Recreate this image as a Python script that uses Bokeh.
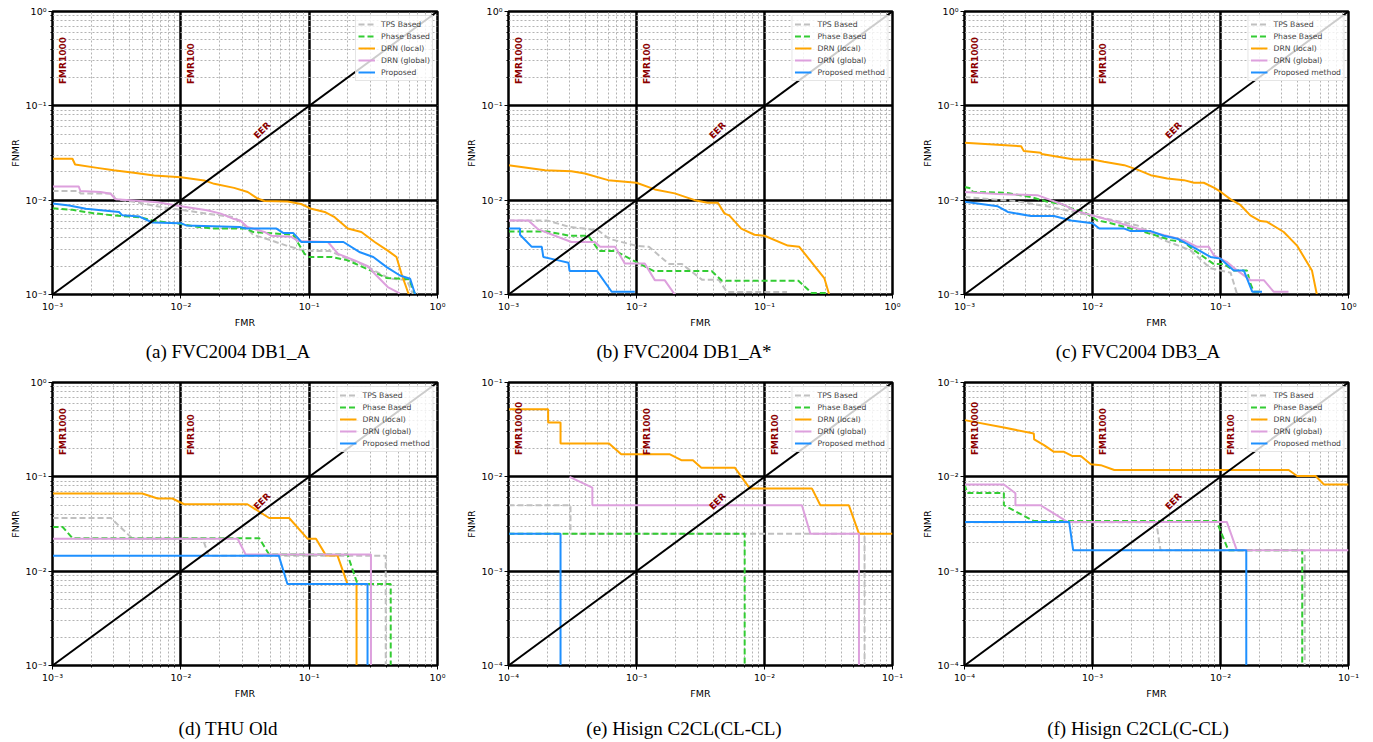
import math
from bokeh.plotting import figure
from bokeh.models import Range1d, LogTicker, CustomJSTickFormatter, Label, Div
from bokeh.layouts import column, row
from bokeh.embed import file_html
from bokeh.resources import INLINE

# ---------------- data ----------------
series_labels = ["TPS Based", "Phase Based", "DRN (local)", "DRN (global)", "Proposed method"]
series_colors = ["#c0c0c0", "#33cc33", "#ffa500", "#dda0dd", "#1e90ff"]
series_dashes = ["6 3", "6 3", "solid", "solid", "solid"]

captions = ["(a) FVC2004 DB1_A", "(b) FVC2004 DB1_A*", "(c) FVC2004 DB3_A",
            "(d) THU Old", "(e) Hisign C2CL(CL-CL)", "(f) Hisign C2CL(C-CL)"]

# axis limits per panel (a..f)
axis_lo = [1e-3, 1e-3, 1e-3, 1e-3, 1e-4, 1e-4]
axis_hi = [1.0, 1.0, 1.0, 1.0, 1e-1, 1e-1]
fmr_lines_wide = [1e-3, 1e-2]
fmr_names_wide = ["FMR1000", "FMR100"]
fmr_lines_low = [1e-4, 1e-3, 1e-2]
fmr_names_low = ["FMR10000", "FMR1000", "FMR100"]

# (a) FVC2004 DB1_A
a_tps_x = [1e-3, 1.6e-3, 1.65e-3, 2.9e-3, 3.1e-3, 4.5e-3, 7.2e-3, 0.01, 0.0149, 0.02, 0.026, 0.0305, 0.0365, 0.049, 0.0665, 0.0845, 0.1, 0.144, 0.185, 0.28, 0.356, 0.43, 0.575, 0.646]
a_tps_y = [0.0125, 0.0125, 0.0118, 0.0118, 0.0103, 0.0095, 0.0084, 0.0079, 0.0073, 0.0069, 0.0066, 0.0056, 0.0043, 0.0038, 0.0033, 0.0030, 0.0029, 0.0029, 0.0025, 0.0020, 0.00166, 0.00147, 0.00143, 0.001]
a_phase_x = [1e-3, 1.43e-3, 2.05e-3, 2.94e-3, 4.75e-3, 6.0e-3, 7.7e-3, 0.01, 0.0124, 0.0178, 0.0324, 0.0365, 0.075, 0.092, 0.1, 0.15, 0.2, 0.3, 0.4, 0.6, 0.67]
a_phase_y = [0.0082, 0.0079, 0.0073, 0.0069, 0.0066, 0.0061, 0.0058, 0.0056, 0.0053, 0.0050, 0.0050, 0.0046, 0.0043, 0.0027, 0.0025, 0.0025, 0.0023, 0.0018, 0.0015, 0.00145, 0.001]
a_local_x = [1e-3, 1.43e-3, 1.5e-3, 2.23e-3, 3.0e-3, 4.3e-3, 6.2e-3, 0.01, 0.0152, 0.0182, 0.026, 0.0332, 0.0397, 0.0448, 0.068, 0.0866, 0.104, 0.132, 0.158, 0.2, 0.255, 0.324, 0.412, 0.479, 0.524, 0.597]
a_local_y = [0.0275, 0.0275, 0.0239, 0.022, 0.0207, 0.0195, 0.0183, 0.0175, 0.0162, 0.0149, 0.0135, 0.0122, 0.0104, 0.0098, 0.0097, 0.0091, 0.0081, 0.0075, 0.0066, 0.005, 0.0046, 0.0036, 0.0029, 0.0025, 0.00166, 0.001]
a_global_x = [1e-3, 1.6e-3, 1.65e-3, 2.37e-3, 2.84e-3, 3.1e-3, 4.3e-3, 6.6e-3, 0.01, 0.016, 0.0205, 0.026, 0.029, 0.033, 0.0448, 0.0505, 0.072, 0.082, 0.14, 0.168, 0.226, 0.287, 0.324, 0.41, 0.508]
a_global_y = [0.014, 0.014, 0.0125, 0.0122, 0.0117, 0.0102, 0.0099, 0.0095, 0.0086, 0.0078, 0.0072, 0.0063, 0.0061, 0.0052, 0.0046, 0.0042, 0.0041, 0.0037, 0.0036, 0.0027, 0.0023, 0.002, 0.00166, 0.0012, 0.00103]
a_prop_x = [1e-3, 1.35e-3, 1.82e-3, 3.3e-3, 3.5e-3, 4.75e-3, 6.0e-3, 0.01, 0.011, 0.0287, 0.0324, 0.0556, 0.0627, 0.075, 0.087, 0.185, 0.249, 0.316, 0.402, 0.51, 0.612, 0.67]
a_prop_y = [0.0092, 0.0088, 0.0081, 0.0075, 0.0069, 0.0067, 0.0058, 0.0057, 0.0054, 0.0052, 0.005, 0.005, 0.0045, 0.0045, 0.0036, 0.0036, 0.0028, 0.0025, 0.00195, 0.00159, 0.00147, 0.001]

# (b) FVC2004 DB1_A*
b_tps_x = [1e-3, 2.0e-3, 3.0e-3, 5.0e-3, 6.1e-3, 9.8e-3, 0.0125, 0.018, 0.0227, 0.0326, 0.044, 0.051, 0.15]
b_tps_y = [0.0061, 0.0061, 0.0052, 0.0048, 0.0039, 0.0033, 0.0032, 0.0021, 0.0021, 0.00143, 0.00143, 0.00106, 0.00106]
b_phase_x = [1e-3, 2.0e-3, 3.0e-3, 4.2e-3, 5.1e-3, 6.8e-3, 0.01, 0.0137, 0.0386, 0.0465, 0.184, 0.233, 0.316]
b_phase_y = [0.00466, 0.00466, 0.0042, 0.0042, 0.0029, 0.0029, 0.0022, 0.00177, 0.00177, 0.0014, 0.0014, 0.00104, 0.00104]
b_local_x = [1e-3, 1.93e-3, 3.1e-3, 3.95e-3, 6.0e-3, 0.01, 0.0139, 0.0199, 0.0285, 0.036, 0.0432, 0.0488, 0.053, 0.0658, 0.0835, 0.1, 0.152, 0.187, 0.294, 0.32]
b_local_y = [0.0235, 0.0208, 0.0203, 0.0192, 0.0163, 0.0153, 0.013, 0.0118, 0.01, 0.0094, 0.0094, 0.0072, 0.0069, 0.005, 0.0043, 0.0042, 0.0033, 0.0032, 0.00148, 0.001]
b_global_x = [1e-3, 1.43e-3, 1.71e-3, 3.1e-3, 4.73e-3, 5.2e-3, 6.8e-3, 8.1e-3, 0.0116, 0.0139, 0.0166, 0.0199]
b_global_y = [0.0061, 0.0061, 0.0049, 0.0036, 0.0036, 0.0032, 0.0032, 0.00213, 0.00213, 0.00142, 0.00142, 0.001]
b_prop_x = [1e-3, 1.23e-3, 1.23e-3, 1.52e-3, 1.82e-3, 1.87e-3, 2.45e-3, 2.94e-3, 3.0e-3, 4.9e-3, 6.4e-3, 9.7e-3]
b_prop_y = [0.005, 0.005, 0.0043, 0.0032, 0.0032, 0.0025, 0.0023, 0.00217, 0.00178, 0.00178, 0.00107, 0.00107]

# (c) FVC2004 DB3_A
c_tps_x = [1e-3, 2.45e-3, 4.45e-3, 0.01, 0.0148, 0.0224, 0.036, 0.058, 0.0835, 0.1, 0.12, 0.135]
c_tps_y = [0.0108, 0.0098, 0.0086, 0.0068, 0.0061, 0.0054, 0.00377, 0.00295, 0.0019, 0.0018, 0.0017, 0.001]
c_phase_x = [1e-3, 1.13e-3, 1.16e-3, 2.05e-3, 3.3e-3, 4.45e-3, 5.7e-3, 6.8e-3, 8.6e-3, 0.0109, 0.0139, 0.0199, 0.0285, 0.0408, 0.0517, 0.062, 0.074, 0.0887, 0.106, 0.127, 0.161, 0.171, 0.182, 0.205]
c_phase_y = [0.0138, 0.0133, 0.0122, 0.012, 0.0108, 0.0096, 0.0091, 0.0082, 0.0075, 0.0061, 0.0057, 0.005, 0.0044, 0.00377, 0.0036, 0.00295, 0.0025, 0.0021, 0.0021, 0.0018, 0.0018, 0.00131, 0.00107, 0.00107]
c_local_x = [1e-3, 2.77e-3, 2.9e-3, 3.95e-3, 4.0e-3, 7.2e-3, 0.01, 0.0123, 0.0177, 0.0224, 0.0285, 0.0384, 0.0517, 0.062, 0.074, 0.0887, 0.1, 0.12, 0.143, 0.171, 0.205, 0.231, 0.312, 0.396, 0.518, 0.566]
c_local_y = [0.0405, 0.0373, 0.0333, 0.0318, 0.0308, 0.027, 0.027, 0.0255, 0.0235, 0.0211, 0.0184, 0.017, 0.0163, 0.0153, 0.0153, 0.0136, 0.0123, 0.0102, 0.0089, 0.0069, 0.006, 0.0059, 0.0046, 0.0033, 0.0018, 0.001]
c_global_x = [1e-3, 1.82e-3, 3.72e-3, 4.73e-3, 6.0e-3, 7.2e-3, 0.01, 0.0139, 0.0224, 0.0408, 0.0517, 0.0658, 0.081, 0.0887, 0.113, 0.135, 0.171, 0.218, 0.26, 0.34]
c_global_y = [0.0122, 0.0116, 0.0113, 0.01, 0.0089, 0.0078, 0.0069, 0.0061, 0.005, 0.0041, 0.00377, 0.0032, 0.0032, 0.0026, 0.0022, 0.0018, 0.00142, 0.00142, 0.00107, 0.00107]
c_prop_x = [1e-3, 1.82e-3, 2.18e-3, 3.3e-3, 5.0e-3, 6.8e-3, 0.01, 0.0113, 0.0177, 0.0199, 0.0285, 0.036, 0.046, 0.0517, 0.0658, 0.0835, 0.1, 0.127, 0.152, 0.177, 0.211]
c_prop_y = [0.0096, 0.0086, 0.0075, 0.0068, 0.0068, 0.0061, 0.0057, 0.005, 0.005, 0.0047, 0.0047, 0.0042, 0.0039, 0.0036, 0.003, 0.0025, 0.0024, 0.0018, 0.0018, 0.00107, 0.00107]

# (d) THU Old
d_tps_x = [1e-3, 2.85e-3, 4.2e-3, 0.0148, 0.0165, 0.395, 0.395]
d_tps_y = [0.0366, 0.0366, 0.0221, 0.0221, 0.0146, 0.0146, 0.001]
d_phase_x = [1e-3, 1.2e-3, 1.43e-3, 0.0408, 0.0488, 0.199, 0.238, 0.432, 0.432]
d_phase_y = [0.0294, 0.0294, 0.0224, 0.0224, 0.0150, 0.0150, 0.0073, 0.0073, 0.001]
d_local_x = [1e-3, 5.0e-3, 6.6e-3, 8.6e-3, 0.0106, 0.033, 0.0488, 0.0698, 0.097, 0.113, 0.135, 0.166, 0.199, 0.234, 0.234]
d_local_y = [0.0665, 0.0665, 0.0589, 0.0589, 0.0512, 0.0512, 0.0366, 0.0366, 0.0221, 0.0221, 0.0147, 0.0147, 0.0073, 0.0073, 0.001]
d_global_x = [1e-3, 0.0277, 0.032, 0.303, 0.303]
d_global_y = [0.0221, 0.0221, 0.015, 0.015, 0.001]
d_prop_x = [1e-3, 0.058, 0.0677, 0.285, 0.285]
d_prop_y = [0.0146, 0.0146, 0.0073, 0.0073, 0.001]

# (e) Hisign C2CL(CL-CL)
e_tps_x = [1e-4, 3.05e-4, 3.05e-4, 0.0605, 0.0605]
e_tps_y = [0.005, 0.005, 0.0025, 0.0025, 1e-4]
e_phase_x = [1e-4, 7.0e-3, 7.0e-3]
e_phase_y = [0.0025, 0.0025, 1e-4]
e_local_x = [1e-4, 2.04e-4, 2.04e-4, 2.55e-4, 2.55e-4, 6.1e-4, 7.6e-4, 1.81e-3, 2.24e-3, 2.76e-3, 3.21e-3, 5.86e-3, 7.7e-3, 0.0235, 0.0273, 0.0456, 0.0547, 0.1]
e_local_y = [0.052, 0.052, 0.0377, 0.0377, 0.0226, 0.0226, 0.0174, 0.0174, 0.015, 0.015, 0.0125, 0.0125, 0.0075, 0.0075, 0.005, 0.005, 0.0025, 0.0025]
e_global_x = [3.0e-4, 4.52e-4, 4.52e-4, 0.0196, 0.0228, 0.0547, 0.0547]
e_global_y = [0.0100, 0.0077, 0.005, 0.005, 0.0025, 0.0025, 1e-4]
e_prop_x = [1e-4, 2.55e-4, 2.55e-4]
e_prop_y = [0.0025, 0.0025, 1e-4]

# (f) Hisign C2CL(C-CL)
f_tps_x = [1e-4, 3.15e-3, 3.4e-3, 0.0455, 0.0455]
f_tps_y = [0.0033, 0.0033, 0.00167, 0.00167, 1e-4]
f_phase_x = [1e-4, 1.05e-4, 2.03e-4, 2.03e-4, 3.48e-4, 9.3e-3, 0.0115, 0.0435, 0.0435]
f_phase_y = [0.0083, 0.00676, 0.00676, 0.005, 0.0034, 0.0034, 0.00167, 0.00167, 1e-4]
f_local_x = [1e-4, 2.03e-4, 3.48e-4, 3.5e-4, 4.18e-4, 5.0e-4, 6.0e-4, 6.98e-4, 8.1e-4, 9.7e-4, 1.16e-3, 1.48e-3, 0.0341, 0.0397, 0.0553, 0.0643, 0.1]
f_local_y = [0.0399, 0.0333, 0.0288, 0.0249, 0.0217, 0.0184, 0.0184, 0.0166, 0.0166, 0.0136, 0.0133, 0.0118, 0.0118, 0.0102, 0.0102, 0.0083, 0.0083]
f_global_x = [1e-4, 2.03e-4, 2.5e-4, 2.5e-4, 3.93e-4, 6.37e-4, 0.0112, 0.0134, 0.1]
f_global_y = [0.0083, 0.0083, 0.0067, 0.005, 0.005, 0.00333, 0.00333, 0.00167, 0.00167]
f_prop_x = [1e-4, 6.57e-4, 7.06e-4, 0.0159, 0.0159]
f_prop_y = [0.00333, 0.00333, 0.00167, 0.00167, 1e-4]

# ---------------- styling helpers ----------------
TICK_JS = r"""
const sup = {"-": "\u207b", "0": "\u2070", "1": "\u00b9", "2": "\u00b2", "3": "\u00b3",
             "4": "\u2074", "5": "\u2075", "6": "\u2076", "7": "\u2077", "8": "\u2078", "9": "\u2079"};
const e = Math.round(Math.log10(tick));
return "10" + String(e).split("").map((c) => sup[c]).join("");
"""

SANS = "DejaVu Sans"
FIG_H = 335


def make_panel(series, lo, hi, fmr_lines, fmr_names, last_label, width, border):
    bl, br, bt, bb = border
    p = figure(width=width, height=FIG_H, x_axis_type="log", y_axis_type="log",
               x_range=Range1d(lo, hi), y_range=Range1d(lo, hi),
               output_backend="svg", toolbar_location=None,
               min_border_left=bl, min_border_right=br,
               min_border_top=bt, min_border_bottom=bb,
               title_location=None, margin=0)

    p.background_fill_color = "white"
    p.border_fill_color = "white"
    p.outline_line_color = "black"
    p.outline_line_width = 2.5
    p.outline_line_alpha = 1.0

    for ax in (p.xaxis[0], p.yaxis[0]):
        ax.ticker = LogTicker(num_minor_ticks=10)
        ax.formatter = CustomJSTickFormatter(code=TICK_JS)
        ax.axis_line_color = "black"
        ax.major_tick_out = 4
        ax.major_tick_in = 0
        ax.minor_tick_out = 2
        ax.minor_tick_in = 0
        ax.major_tick_line_color = "black"
        ax.minor_tick_line_color = "black"
        ax.major_label_text_font = SANS
        ax.major_label_text_font_size = "9.5px"
        ax.major_label_text_color = "black"
        ax.major_label_standoff = 2
        ax.axis_label_text_font = SANS
        ax.axis_label_text_font_size = "9.5px"
        ax.axis_label_text_font_style = "normal"
        ax.axis_label_text_color = "black"
        ax.axis_label_standoff = 2
    p.xaxis.axis_label = "FMR"
    p.yaxis.axis_label = "FNMR"

    for g in (p.xgrid[0], p.ygrid[0]):
        g.grid_line_color = "black"
        g.grid_line_width = 2.5
        g.grid_line_alpha = 1.0
        g.minor_grid_line_color = "#aaaaaa"
        g.minor_grid_line_dash = "2 2"
        g.minor_grid_line_width = 0.9

    # curves
    labels = series_labels[:-1] + [last_label]
    for (xs, ys), lab, col, dash in zip(series, labels, series_colors, series_dashes):
        p.line(xs, ys, line_color=col, line_width=2, line_dash=dash, legend_label=lab)

    # EER diagonal (FMR = FNMR)
    p.line([lo, hi], [lo, hi], line_color="black", line_width=2)

    # FMR annotations
    ylab = hi * 0.17
    for fx, name in zip(fmr_lines, fmr_names):
        p.add_layout(Label(x=fx * 1.2, y=ylab, text=name, angle=math.pi / 2,
                           text_align="left", text_baseline="middle",
                           text_color="#8b0000", text_font=SANS,
                           text_font_style="bold", text_font_size="9px"))
    p.add_layout(Label(x=lo * 43, y=lo * 55, text="EER", angle=math.pi / 4,
                       text_align="center", text_baseline="middle",
                       text_color="#8b0000", text_font=SANS,
                       text_font_style="bold", text_font_size="9px"))

    lg = p.legend[0]
    lg.location = "top_right"
    lg.margin = 4
    lg.padding = 2
    lg.spacing = 0
    lg.glyph_width = 17
    lg.glyph_height = 12
    lg.label_height = 12
    lg.label_standoff = 6
    lg.label_text_font = SANS
    lg.label_text_font_size = "7.7px"
    lg.background_fill_alpha = 0.8
    lg.border_line_color = "#cccccc"
    lg.border_line_width = 1
    return p


def make_caption(text, width, pad_top, pad_right):
    html = ('<div style="width:%dpx;box-sizing:border-box;padding-top:%dpx;padding-right:%dpx;'
            'text-align:center;font-family:\'Liberation Serif\',serif;font-size:19px;'
            'line-height:22px;color:black;white-space:nowrap;">%s</div>'
            % (width, pad_top, pad_right, text))
    return Div(text=html, width=width, height=36, margin=0)


panels_data = [
    [(a_tps_x, a_tps_y), (a_phase_x, a_phase_y), (a_local_x, a_local_y), (a_global_x, a_global_y), (a_prop_x, a_prop_y)],
    [(b_tps_x, b_tps_y), (b_phase_x, b_phase_y), (b_local_x, b_local_y), (b_global_x, b_global_y), (b_prop_x, b_prop_y)],
    [(c_tps_x, c_tps_y), (c_phase_x, c_phase_y), (c_local_x, c_local_y), (c_global_x, c_global_y), (c_prop_x, c_prop_y)],
    [(d_tps_x, d_tps_y), (d_phase_x, d_phase_y), (d_local_x, d_local_y), (d_global_x, d_global_y), (d_prop_x, d_prop_y)],
    [(e_tps_x, e_tps_y), (e_phase_x, e_phase_y), (e_local_x, e_local_y), (e_global_x, e_global_y), (e_prop_x, e_prop_y)],
    [(f_tps_x, f_tps_y), (f_phase_x, f_phase_y), (f_local_x, f_local_y), (f_global_x, f_global_y), (f_prop_x, f_prop_y)],
]
col_widths = [456, 456, 461]
col_borders = [(52, 19), (52, 20), (52, 25)]
col_cap_pad_right = [0, 0, 9]
row_cap_pad_top = [6, 12]
bt, bb = 11, 41

figs = []
caps = []
for i, series in enumerate(panels_data):
    r, c = divmod(i, 3)
    lo, hi = axis_lo[i], axis_hi[i]
    wide = lo > 5e-4
    fl = fmr_lines_wide if wide else fmr_lines_low
    fn = fmr_names_wide if wide else fmr_names_low
    last = "Proposed" if i == 0 else "Proposed method"
    border = (col_borders[c][0], col_borders[c][1], bt, bb)
    figs.append(make_panel(series, lo, hi, fl, fn, last, col_widths[c], border))
    caps.append(make_caption(captions[i], col_widths[c], row_cap_pad_top[r], col_cap_pad_right[c]))

page = column(
    row(*figs[0:3], spacing=0, margin=0),
    row(*caps[0:3], spacing=0, margin=0),
    row(*figs[3:6], spacing=0, margin=0),
    row(*caps[3:6], spacing=0, margin=0),
    spacing=0, margin=0,
)

open("out.html", "w").write(file_html(page, INLINE))
